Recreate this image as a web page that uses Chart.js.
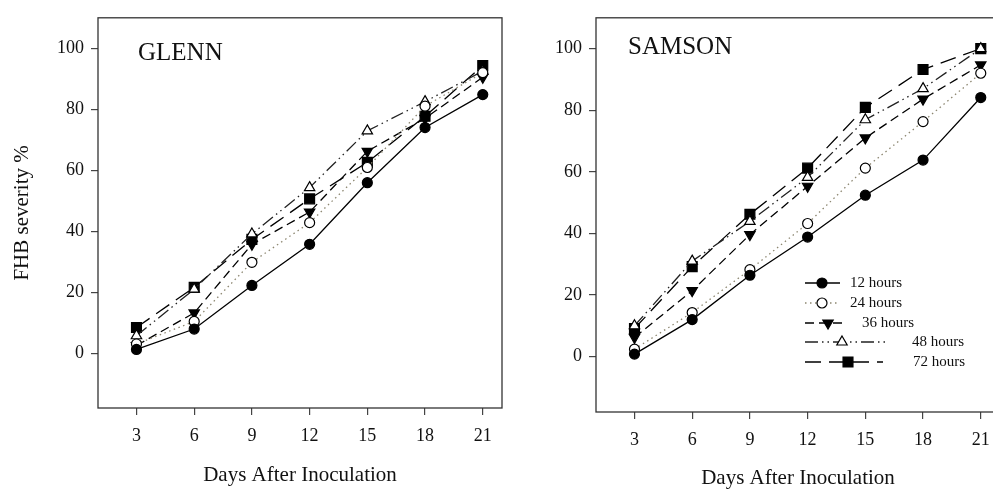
<!DOCTYPE html>
<html>
<head>
<meta charset="utf-8">
<script src="https://cdn.jsdelivr.net/npm/chart.js@4.4.1/dist/chart.umd.min.js"></script>
<style>
  html, body { margin: 0; padding: 0; background: #fff; overflow: hidden; }
  #wrap { position: relative; width: 993px; height: 490px; overflow: hidden; }
  canvas { position: absolute; top: 0; }
  #glenn { left: 0; }
  #samson { left: 500px; }
</style>
</head>
<body>
<div id="wrap">
  <canvas id="glenn" width="512" height="490"></canvas>
  <canvas id="samson" width="510" height="490"></canvas>
</div>
<script>
'use strict';

// ---- dati ----
const days = [3, 6, 9, 12, 15, 18, 21];
const xTicks = [3, 6, 9, 12, 15, 18, 21];
const yTicks = [0, 20, 40, 60, 80, 100];
const seriesLabels = ['12 hours', '24 hours', '36 hours', '48 hours', '72 hours'];

// GLENN
const glenn12 = [1.2, 7.9, 22.2, 35.7, 55.9, 74.0, 84.8];
const glenn24 = [3.0, 10.4, 29.8, 42.8, 60.9, 81.0, 92.0];
const glenn36 = [2.5, 13.2, 35.7, 46.3, 66.2, 77.0, 90.5];
const glenn48 = [5.7, 21.0, 39.1, 54.3, 72.9, 82.5, 92.5];
const glenn72 = [8.4, 21.6, 37.3, 50.6, 62.6, 77.7, 94.3];

// SAMSON
const samson12 = [0.8, 12.0, 26.4, 38.8, 52.4, 63.8, 84.1];
const samson24 = [2.4, 14.3, 28.2, 43.2, 61.2, 76.3, 92.0];
const samson36 = [6.2, 21.4, 39.6, 55.3, 71.0, 83.6, 94.7];
const samson48 = [10.0, 31.0, 43.9, 58.2, 76.9, 87.0, 100.0];
const samson72 = [9.1, 29.2, 46.2, 61.2, 80.9, 93.2, 100.0];

// stili delle serie (linea + marker)
const styles = [
  { color: '#000',    dash: [],                   point: 'circle',   r: 5,   rot: 0,   fill: '#000' },
  { color: '#8c8670', dash: [1.5, 3.5],           point: 'circle',   r: 5,   rot: 0,   fill: '#fff' },
  { color: '#000',    dash: [9, 5],               point: 'triangle', r: 6,   rot: 180, fill: '#000' },
  { color: '#222',    dash: [13, 4, 1.5, 4, 1.5, 4], point: 'triangle', r: 6, rot: 0,  fill: '#fff' },
  { color: '#000',    dash: [16, 8],              point: 'rect',     r: 7,   rot: 0,   fill: '#000' }
];

const serif = "'Liberation Serif', 'DejaVu Serif', serif";

// cornice completa attorno all'area del grafico + etichetta del pannello
const framePlugin = {
  id: 'frame',
  beforeDatasetsDraw(chart, args, opts) {
    const { ctx, chartArea: a } = chart;
    ctx.save();
    ctx.strokeStyle = '#333';
    ctx.lineWidth = 1.3;
    ctx.strokeRect(a.left, a.top, a.right - a.left, a.bottom - a.top);
    ctx.fillStyle = '#111';
    ctx.font = '25px ' + serif;
    ctx.textBaseline = 'middle';
    ctx.textAlign = 'left';
    ctx.fillText(opts.text, opts.x, opts.y);
    ctx.restore();
  }
};

function drawMarker(ctx, st, x, y) {
  ctx.fillStyle = st.fill;
  ctx.strokeStyle = '#000';
  ctx.lineWidth = 1.2;
  ctx.setLineDash([]);
  Chart.helpers.drawPoint(ctx, { pointStyle: st.point, radius: st.r, rotation: st.rot, borderWidth: 1.2 }, x, y);
}

// legenda disegnata a mano (righe con spaziature diverse come nell'originale)
const legendRows = [
  { y: 283, x0: 305, x1: 340, mx: 322, tx: 350 },
  { y: 303, x0: 305, x1: 340, mx: 322, tx: 350 },
  { y: 323, x0: 305, x1: 345, mx: 328, tx: 362 },
  { y: 342, x0: 305, x1: 387, mx: 342, tx: 412 },
  { y: 362, x0: 305, x1: 383, mx: 348, tx: 413 }
];

const legendPlugin = {
  id: 'hoursLegend',
  afterDraw(chart, args, opts) {
    if (!opts.show) return;
    const ctx = chart.ctx;
    ctx.save();
    legendRows.forEach((row, i) => {
      const st = styles[i];
      ctx.strokeStyle = st.color;
      ctx.lineWidth = 1.3;
      ctx.setLineDash(st.dash);
      ctx.beginPath();
      ctx.moveTo(row.x0, row.y);
      ctx.lineTo(row.x1, row.y);
      ctx.stroke();
      drawMarker(ctx, st, row.mx, row.y);
      ctx.fillStyle = '#111';
      ctx.font = '15px ' + serif;
      ctx.textBaseline = 'middle';
      ctx.textAlign = 'left';
      ctx.fillText(seriesLabels[i], row.tx, row.y);
    });
    ctx.restore();
  }
};

function makeChart(id, series, o) {
  const datasets = series.map((vals, i) => {
    const st = styles[i];
    return {
      label: seriesLabels[i],
      data: vals.map((v, k) => ({ x: days[k], y: v })),
      borderColor: st.color,
      borderWidth: 1.3,
      borderDash: st.dash,
      pointStyle: st.point,
      pointRadius: st.r,
      pointRotation: st.rot,
      pointBackgroundColor: st.fill,
      pointBorderColor: '#000',
      pointBorderWidth: 1.2,
      tension: 0,
      fill: false
    };
  });

  return new Chart(document.getElementById(id), {
    type: 'line',
    data: { datasets },
    plugins: [framePlugin, legendPlugin],
    options: {
      responsive: false,
      animation: false,
      layout: { padding: { top: o.padTop, right: o.padRight, bottom: 0, left: 0 } },
      plugins: {
        legend: { display: false },
        tooltip: { enabled: false },
        frame: o.label,
        hoursLegend: { show: o.legend }
      },
      scales: {
        x: {
          type: 'linear', min: 1, max: 22,
          afterBuildTicks: s => { s.ticks = xTicks.map(v => ({ value: v })); },
          afterFit: s => { s.height = o.xHeight; },
          grid: { drawOnChartArea: false, drawTicks: true, tickLength: 7, color: '#444', lineWidth: 1.2 },
          border: { display: false },
          ticks: { color: '#111', font: { family: serif, size: 18 }, padding: 10, maxRotation: 0 },
          title: { display: true, text: 'Days After Inoculation', color: '#111',
                   font: { family: serif, size: 21, lineHeight: 1 }, padding: { top: 0, bottom: o.xTitlePad } }
        },
        y: {
          type: 'linear', min: -18, max: 110,
          afterBuildTicks: s => { s.ticks = yTicks.map(v => ({ value: v })); },
          afterFit: s => { s.width = o.yWidth; },
          grid: { drawOnChartArea: false, drawTicks: true, tickLength: 7, color: '#444', lineWidth: 1.2 },
          border: { display: false },
          ticks: { color: '#111', font: { family: serif, size: 18 }, padding: 7 },
          title: { display: o.yTitle, text: 'FHB severity %', color: '#111',
                   font: { family: serif, size: 21, lineHeight: 1 }, padding: { top: 11.5, bottom: 0 } }
        }
      }
    }
  });
}

makeChart('glenn', [glenn12, glenn24, glenn36, glenn48, glenn72], {
  padTop: 6, padRight: 10, xHeight: 82, yWidth: 98, xTitlePad: 4.5, yTitle: true,
  label: { text: 'GLENN', x: 138, y: 53 }, legend: false
});

makeChart('samson', [samson12, samson24, samson36, samson48, samson72], {
  padTop: 9, padRight: 10, xHeight: 78, yWidth: 96, xTitlePad: 1.5, yTitle: false,
  label: { text: 'SAMSON', x: 128, y: 47 }, legend: true
});
</script>
</body>
</html>
